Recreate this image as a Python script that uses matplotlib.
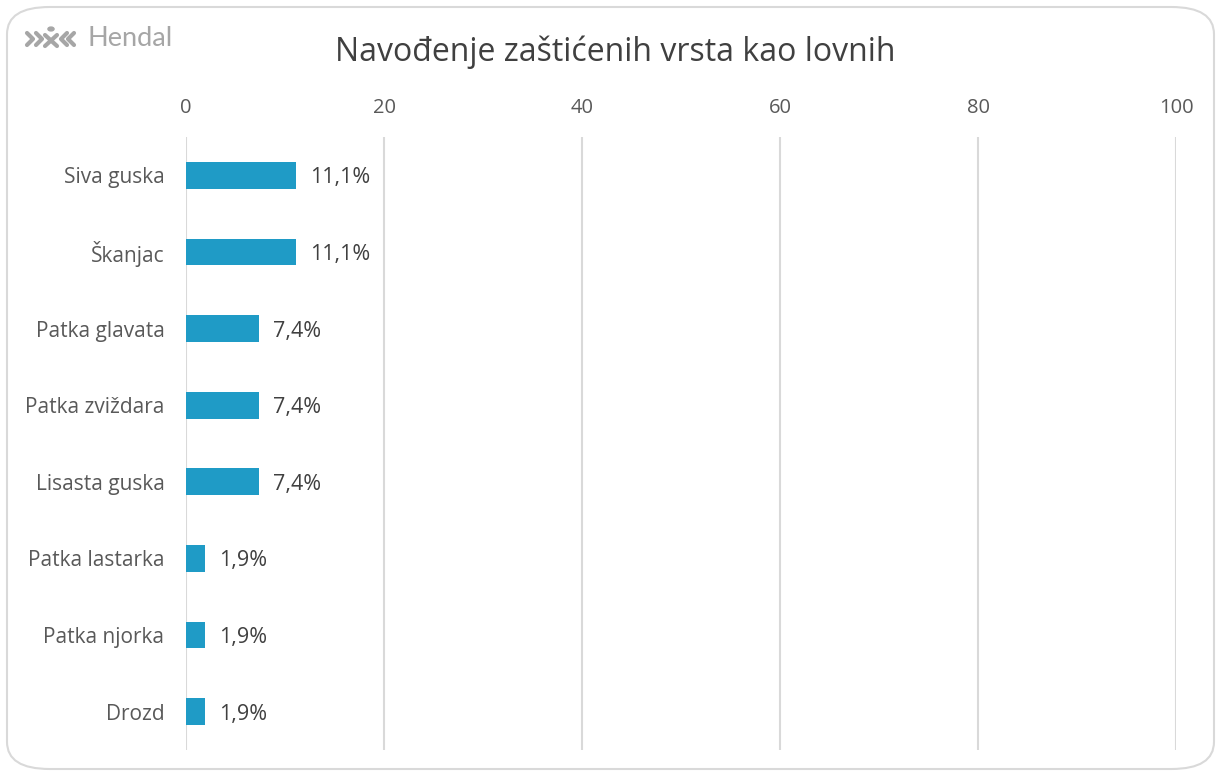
import matplotlib.pyplot as plt
from matplotlib.patches import FancyBboxPatch
from matplotlib.lines import Line2D

categories = ['Siva guska', 'Škanjac', 'Patka glavata', 'Patka zviždara',
              'Lisasta guska', 'Patka lastarka', 'Patka njorka', 'Drozd']
values = [11.1, 11.1, 7.4, 7.4, 7.4, 1.9, 1.9, 1.9]
x_ticks = [0, 20, 40, 60, 80, 100]

plt.rcParams['font.family'] = ['Open Sans', 'DejaVu Sans']

W, H = 1221, 776
fig = plt.figure(figsize=(W / 100, H / 100), dpi=100)

# rounded frame around the whole chart
frame = FancyBboxPatch((7 / W, 7 / H), 1207 / W, 762 / H,
                       boxstyle='round,pad=0,rounding_size=0.035',
                       transform=fig.transFigure, facecolor='none',
                       edgecolor='#D9D9D9', linewidth=1.5, zorder=-1)
fig.patches.append(frame)

ax = fig.add_axes([186 / W, (H - 750) / H, 990 / W, 613 / H])
ax.set_facecolor('none')

y = list(range(len(categories)))
ax.barh(y, values, height=0.35, color='#1F9BC6', zorder=3)
for yi, v in zip(y, values):
    ax.text(v + 1.4, yi, f'{v:.1f}%'.replace('.', ','), va='center_baseline',
            ha='left', fontsize=15.5, color='#404040')

ax.set_xlim(0, 100)
ax.set_ylim(len(categories) - 0.5, -0.5)
ax.set_yticks(y)
ax.set_yticklabels(categories, va='center_baseline')
ax.set_xticks(x_ticks)
ax.xaxis.tick_top()
ax.tick_params(axis='y', length=0, labelsize=15, colors='#595959', pad=15.5)
ax.tick_params(axis='x', length=0, labelsize=14.5, colors='#595959', pad=14)
ax.grid(axis='x', color='#D9D9D9', linewidth=1.5, zorder=0)
for s in ax.spines.values():
    s.set_visible(False)

fig.text(615 / W, 1 - 52 / H, 'Navođenje zaštićenih vrsta kao lovnih',
         ha='center', va='center', fontsize=23, color='#404040')

# logo
logo_c = '#A6A6A6'
def fig_line(xs, ys, lw=3):
    fig.add_artist(Line2D([x / W for x in xs], [1 - v / H for v in ys],
                          transform=fig.transFigure, color=logo_c, linewidth=lw,
                          solid_capstyle='round', solid_joinstyle='round'))
fig_line([27, 33, 27], [33, 39, 45])
fig_line([36, 42, 36], [33, 39, 45])
fig_line([45, 57], [35, 46])
fig_line([57, 45], [35, 46])
fig.add_artist(plt.Circle((51 / W, 1 - 29 / H), 0.0025, transform=fig.transFigure,
                          color=logo_c))
fig_line([67, 61, 67], [33, 39, 45])
fig_line([74, 68, 74], [33, 39, 45])
fig.text(88 / W, 1 - 39 / H, 'Hendal', ha='left', va='center', fontsize=19.5,
         color=logo_c, family=['Lato', 'DejaVu Sans'])

fig.savefig('out.png', dpi=100)
